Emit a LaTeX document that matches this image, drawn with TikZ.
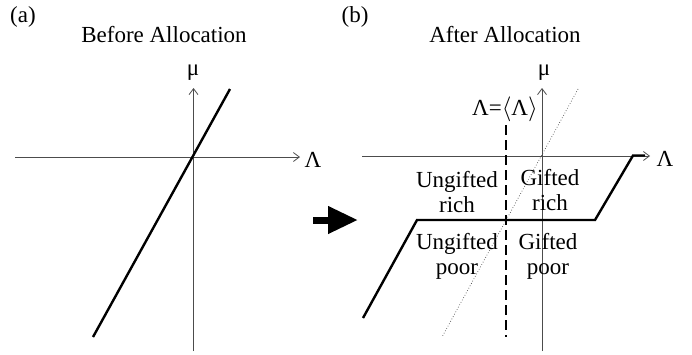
\documentclass[tikz,border=0pt]{standalone}
\usepackage{fontspec}
\setmainfont{Liberation Serif}
\usetikzlibrary{arrows.meta}
\tikzset{
  axis/.style={black!70,line width=.8pt,-{Straight Barb[length=6pt,width=9pt]}},
  curve/.style={line width=2.4pt,line join=miter},
  boxtext/.style={align=center,inner sep=0pt}
}

\begin{document}
\begin{tikzpicture}[x=1pt,y=-1pt,font=\fontsize{23}{25}\selectfont]
        \useasboundingbox (0,0) rectangle (692,354);

        % (a) before
        \node (taga) at (23,17) {(a)};
        \node (tita) at (164,35) {Before Allocation};
        \coordinate (axal) at (15,157);
        \coordinate (axar) at (300,157);
        \coordinate (ayab) at (193.5,351);
        \coordinate (ayat) at (193.5,88);
        \draw[axis] (axal) -- (axar);
        \draw[axis] (ayab) -- (ayat);
        \node (lama) at (313,160) {Λ};
        \node (mua) at (193,73) {μ};
        \coordinate (la1) at (93,337);
        \coordinate (la2) at (230,89);
        \draw[curve] (la1) -- (la2);

        % big arrow
        \coordinate (ar1) at (313,220);
        \coordinate (ar2) at (358,220);
        \draw[line width=7pt,-{Triangle[length=30pt,width=26pt]}] (ar1) -- (ar2);

        % (b) after
        \node (tagb) at (355,17) {(b)};
        \node (titb) at (505,35) {After Allocation};
        \coordinate (axbl) at (362,156);
        \coordinate (axbr) at (650,156);
        \coordinate (aybb) at (542,351);
        \coordinate (aybt) at (542,88);
        \draw[axis] (axbl) -- (axbr);
        \draw[axis] (aybb) -- (aybt);
        \node (lamb) at (665,159) {Λ};
        \node (mub) at (544,73) {μ};
        \coordinate (lb1) at (578,89);
        \coordinate (lb2) at (442,337);
        \draw[black!70,line width=.7pt,dotted] (lb1) -- (lb2);

        \node (mean) at (505,109) {Λ=$\langle$Λ$\rangle$};
        \coordinate (mt) at (506,125);
        \coordinate (mb) at (506,337);
        \draw[line width=2.4pt,dash pattern=on 10pt off 5pt] (mt) -- (mb);

        \coordinate (p1) at (363,318);
        \coordinate (p2) at (417,220);
        \coordinate (p3) at (595,220);
        \coordinate (p4) at (633,155.5);
        \coordinate (p5) at (645,155.5);
        \draw[curve] (p1) -- (p2) -- (p3) -- (p4) -- (p5);

        \node[boxtext] (ur) at (457,192) {Ungifted\\rich};
        \node[boxtext] (gr) at (550,190) {Gifted\\rich};
        \node[boxtext] (up) at (457,256) {Ungifted\\poor};
        \node[boxtext] (gp) at (548,256) {Gifted\\poor};
      \end{tikzpicture}
\end{document}
